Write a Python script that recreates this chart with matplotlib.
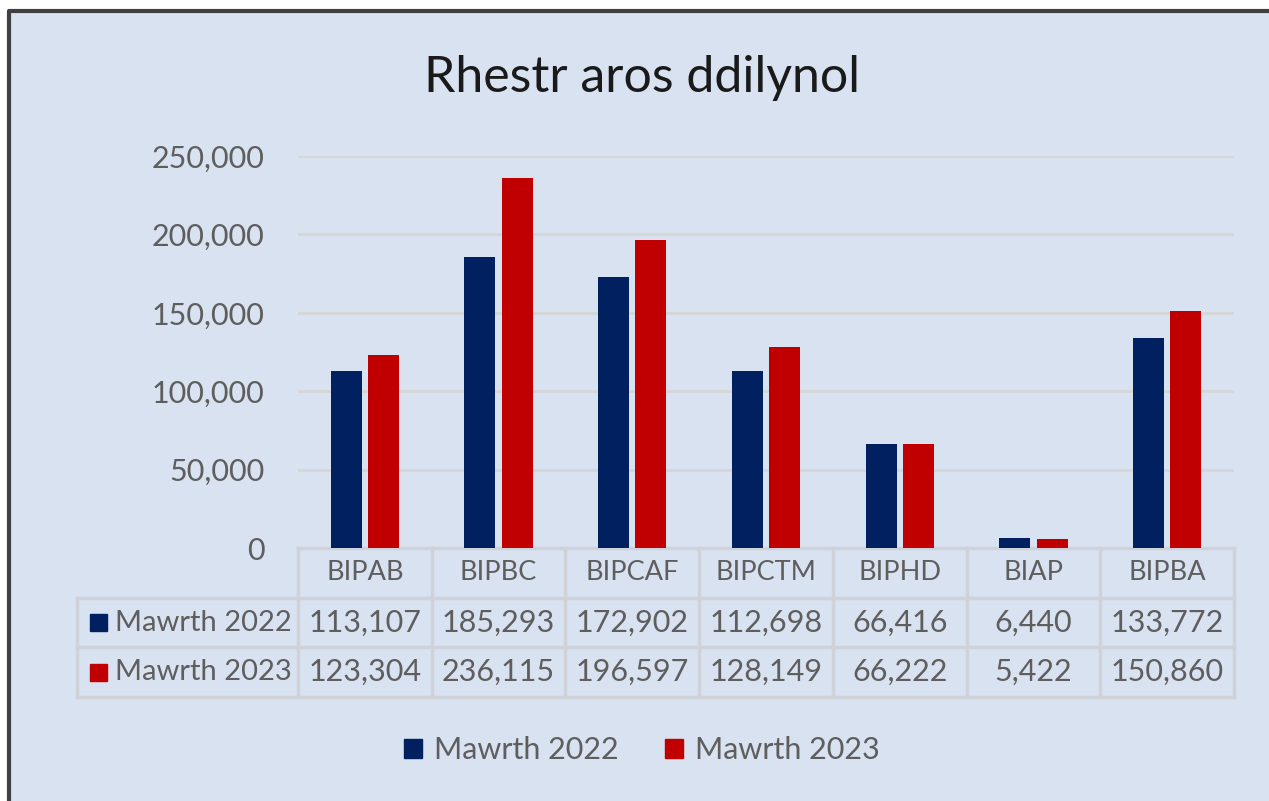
import matplotlib
matplotlib.use('Agg')
import matplotlib.pyplot as plt
from matplotlib.patches import Rectangle, Patch
from matplotlib.lines import Line2D
from matplotlib.ticker import FuncFormatter

plt.rcParams['font.family'] = ['Lato', 'DejaVu Sans']

categories = ['BIPAB', 'BIPBC', 'BIPCAF', 'BIPCTM', 'BIPHD', 'BIAP', 'BIPBA']
series_names = ['Mawrth 2022', 'Mawrth 2023']
values_2022 = [113107, 185293, 172902, 112698, 66416, 6440, 133772]
values_2023 = [123304, 236115, 196597, 128149, 66222, 5422, 150860]
yticks = [0, 50000, 100000, 150000, 200000, 250000]

navy = '#002060'
red = '#C00000'
bg = '#D9E2F1'
txt = '#5E5E5E'
linec = '#CFD3D9'
fs = 22

W, H = 1269, 801
fig = plt.figure(figsize=(W / 100, H / 100), dpi=100)
fig.patch.set_facecolor('white')

# panel background, dark border only on left and top
x0, y0 = 8.5 / W, (H - 11) / H
fig.patches.append(Rectangle((x0, 0), 1 - x0, y0, transform=fig.transFigure,
                             facecolor=bg, edgecolor='none', zorder=-10))
fig.lines.append(Line2D([x0, x0, 1], [0, y0, y0], transform=fig.transFigure,
                        color='#404040', lw=3, zorder=-9))

ax = fig.add_axes([298 / W, (H - 548) / H, 936 / W, 392 / H])
ax.set_facecolor('none')

x = list(range(len(categories)))
w = 0.232
off = 0.139
ax.bar([i - off for i in x], values_2022, width=w, color=navy, zorder=3)
ax.bar([i + off for i in x], values_2023, width=w, color=red, zorder=3)

ax.set_xlim(-0.5, len(categories) - 0.5)
ax.set_ylim(0, 250000)
ax.set_yticks(yticks)
ax.yaxis.set_major_formatter(FuncFormatter(lambda v, p: f'{int(v):,}'))
ax.tick_params(axis='y', length=0, pad=24, labelsize=fs, labelcolor=txt)
ax.set_xticks([])
ax.grid(axis='y', color='#D6D6D6', lw=2, zorder=0)
for s in ax.spines.values():
    s.set_visible(False)

# data table under the plot
tr = ax.get_xaxis_transform()
rh = 49.7 / 392
xl = -0.5 - 221 / 133.7
xr = len(categories) - 0.5
ys = [0, -rh, -2 * rh, -3 * rh]
kw = dict(color=linec, lw=2.5, transform=tr, clip_on=False, zorder=2)
ax.plot([-0.5, xr], [ys[0], ys[0]], **kw)
for yy in ys[1:]:
    ax.plot([xl, xr], [yy, yy], **kw)
for k in range(len(categories) + 1):
    ax.plot([k - 0.5, k - 0.5], [ys[0], ys[3]], **kw)
ax.plot([xl, xl], [ys[1], ys[3]], **kw)

for i, c in enumerate(categories):
    ax.text(i, -rh / 2, c, transform=tr, ha='center', va='center',
            fontsize=fs - 2.5, color=txt, clip_on=False)
rows = [values_2022, values_2023]
cols = [navy, red]
for r, (vals, name, col) in enumerate(zip(rows, series_names, cols)):
    yc = -(r + 1.5) * rh
    for i, v in enumerate(vals):
        ax.text(i, yc, f'{v:,}', transform=tr, ha='center', va='center',
                fontsize=fs, color=txt, clip_on=False)
    sq_w = 17 / 133.7
    sq_h = 17 / 392
    ax.add_patch(Rectangle((xl + 13 / 133.7, yc - sq_h / 2), sq_w, sq_h,
                           transform=tr, color=col, clip_on=False))
    ax.text(xl + 38 / 133.7, yc, name, transform=tr, ha='left', va='center',
            fontsize=fs - 1, color=txt, clip_on=False)

fig.text(642 / W, (H - 78) / H, 'Rhestr aros ddilynol', ha='center',
         va='center', fontsize=36, color='#1a1a1a')

handles = [Patch(color=navy), Patch(color=red)]
fig.legend(handles, series_names, loc='center', bbox_to_anchor=(642 / W, (H - 750) / H),
           ncol=2, frameon=False, fontsize=fs, labelcolor=txt,
           handlelength=0.6, handleheight=0.6, handletextpad=0.4, columnspacing=1.5)

fig.savefig('out.png', dpi=100, facecolor=fig.get_facecolor())
